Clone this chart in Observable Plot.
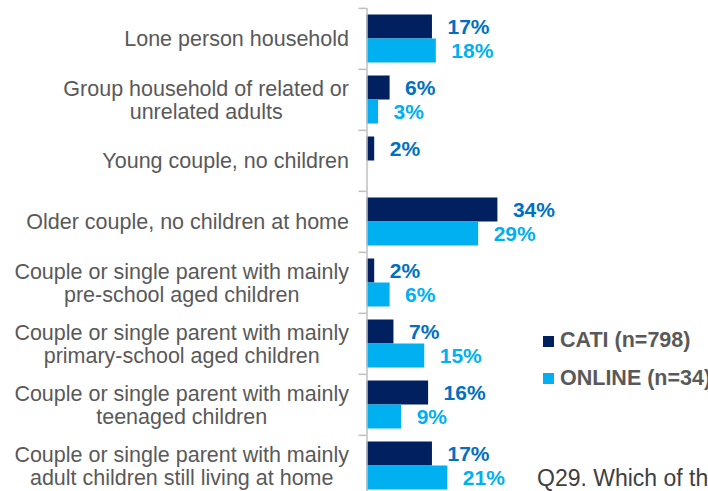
<!DOCTYPE html>
<html>
<head>
<meta charset="utf-8">
<script src="https://cdn.jsdelivr.net/npm/d3@7"></script>
<script src="https://cdn.jsdelivr.net/npm/@observablehq/plot@0.6"></script>
<style>
  html, body { margin: 0; padding: 0; overflow: hidden; background: #fff; }
  #wrap { position: relative; width: 708px; height: 491px; overflow: hidden; font-family: "Liberation Sans", Arial, sans-serif; }
  #chart { position: absolute; left: 0; top: 0; }
  .sw { position: absolute; width: 11px; height: 11px; }
  .lt { position: absolute; font-weight: bold; font-size: 21.5px; line-height: 1; color: #595959; white-space: nowrap; }
  #q { position: absolute; left: 537px; top: 467px; font-size: 23px; line-height: 1; color: #404040; white-space: nowrap; }
</style>
</head>
<body>
<div id="wrap">
  <div id="chart"></div>
  <div id="legend"></div>
  <div id="q"></div>
</div>
<script>
// Data
const categories = [
  "Lone person household",
  "Group household of related or\nunrelated adults",
  "Young couple, no children",
  "Older couple, no children at home",
  "Couple or single parent with mainly\npre-school aged children",
  "Couple or single parent with mainly\nprimary-school aged children",
  "Couple or single parent with mainly\nteenaged children",
  "Couple or single parent with mainly\nadult children still living at home"
];
const seriesNames = ["CATI (n=798)", "ONLINE (n=34)"];
const cati   = [17, 6, 2, 34, 2, 7, 16, 17];
const online = [18, 3, null, 29, 6, 15, 9, 21];
const barColors = ["#002060", "#00B0F0"];
const labelColors = ["#0070C0", "#00B0F0"];
const questionText = "Q29. Which of the following best describes your household?";

const data = categories.flatMap((c, i) => [
  {category: c, series: seriesNames[0], value: cati[i]},
  {category: c, series: seriesNames[1], value: online[i]}
]).filter(d => d.value != null);

const H = 497, MT = 6.5, MB = 0;
const halfBand = (H - MT - MB) / categories.length / 2;
const font = "Liberation Sans, Arial, sans-serif";

const chart = Plot.plot({
  width: 708,
  height: H,
  marginLeft: 366.5,
  marginRight: 0,
  marginTop: MT,
  marginBottom: MB,
  style: {fontFamily: font, background: "transparent", overflow: "visible"},
  x: {domain: [0, 88.7], axis: null},
  y: {domain: seriesNames, axis: null, paddingInner: 0, paddingOuter: 0.245},
  fy: {domain: categories, padding: 0, label: null},
  color: {domain: seriesNames, range: barColors},
  marks: [
    Plot.barX(data, {x: "value", y: "series", fy: "category", fill: "series"}),
    Plot.ruleX([0], {stroke: "#BFBFBF", strokeWidth: 1.5}),
    Plot.axisFy({anchor: "left", tickSize: 8, text: null, dy: -halfBand, stroke: "#BFBFBF", strokeWidth: 1.5, strokeOpacity: 1, label: null}),
    Plot.axisFy({anchor: "left", tickSize: 0, tickPadding: 18, fontSize: 21.5, lineHeight: 23 / 21.5, fill: "#595959", label: null}),
    ...seriesNames.map((s, k) => Plot.text(data, {
      filter: d => d.series === s,
      x: "value", y: "series", fy: "category",
      text: d => d.value + "%",
      dx: 15, textAnchor: "start",
      fill: labelColors[k], fontWeight: "bold", fontSize: 21
    }))
  ]
});
document.getElementById("chart").appendChild(chart);

// Centre multi-line category labels as a block (right edge of longest line at the label position)
chart.querySelectorAll('g[aria-label="fy-axis tick label"] text').forEach(t => {
  const spans = t.querySelectorAll("tspan");
  if (spans.length > 1) {
    let w = 0;
    spans.forEach(s => { w = Math.max(w, s.getComputedTextLength()); });
    t.setAttribute("text-anchor", "middle");
    spans.forEach(s => s.setAttribute("x", -w / 2));
  }
});

// Legend (HTML, placed at right as in reference)
const legend = document.getElementById("legend");
const legTops = [336, 373];
const legBase = [348.3, 386];
seriesNames.forEach((s, k) => {
  const sw = document.createElement("div");
  sw.className = "sw";
  sw.style.left = "543px";
  sw.style.top = legTops[k] + "px";
  sw.style.background = barColors[k];
  legend.appendChild(sw);
  const t = document.createElement("div");
  t.className = "lt";
  t.style.left = "560px";
  t.style.top = (legBase[k] - 0.8465 * 21.5) + "px";
  t.textContent = s;
  legend.appendChild(t);
});
document.getElementById("q").textContent = questionText;
</script>
</body>
</html>
